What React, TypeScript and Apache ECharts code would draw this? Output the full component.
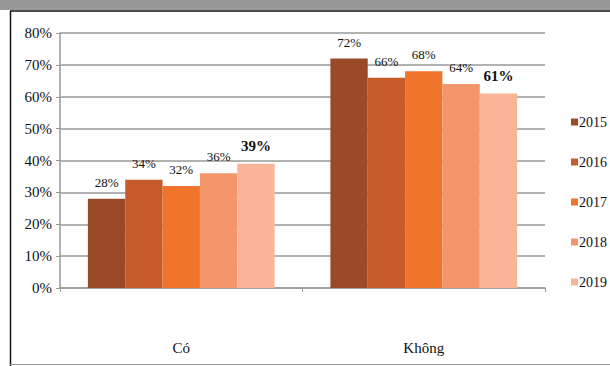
import React, { useEffect, useRef } from "react";
import * as echarts from "echarts";

const categories = ["Có", "Không"];
const years = ["2015", "2016", "2017", "2018", "2019"];
const values2015 = [28, 72];
const values2016 = [34, 66];
const values2017 = [32, 68];
const values2018 = [36, 64];
const values2019 = [39, 61];
const yTicks = [0, 10, 20, 30, 40, 50, 60, 70, 80];

const colors = ["#9B4A29", "#C65B2B", "#F0742C", "#F3966A", "#F8B598"];
const seriesValues = [values2015, values2016, values2017, values2018, values2019];

export default function App() {
  const ref = useRef<HTMLDivElement>(null);
  useEffect(() => {
    if (!ref.current) return;
    const chart = echarts.init(ref.current, null, { renderer: "svg" });
    const font = "'Liberation Serif', 'Times New Roman', serif";
    chart.setOption({
      animation: false,
      backgroundColor: "#ffffff",
      textStyle: { fontFamily: font },
      grid: { left: 60, right: 65, top: 33, bottom: 78, containLabel: false },
      graphic: [
        { type: "rect", shape: { x: 0, y: 0, width: 610, height: 10 }, style: { fill: "#999999" }, silent: true },
        { type: "line", shape: { x1: 10, y1: 11, x2: 610, y2: 11 }, style: { stroke: "#111", lineWidth: 1.5 }, silent: true },
        { type: "line", shape: { x1: 10.5, y1: 11, x2: 10.5, y2: 366 }, style: { stroke: "#111", lineWidth: 1.5 }, silent: true },
        { type: "line", shape: { x1: 10, y1: 364.5, x2: 610, y2: 364.5 }, style: { stroke: "#999", lineWidth: 1 }, silent: true },
      ],
      legend: {
        orient: "vertical",
        left: 566,
        top: 110,
        itemWidth: 7,
        itemHeight: 7,
        itemGap: 26,
        icon: "rect",
        data: years,
        textStyle: { fontFamily: font, fontSize: 14, color: "#111", padding: [0, 0, 0, -4] },
      },
      xAxis: {
        type: "category",
        data: categories,
        axisLine: { lineStyle: { color: "#999", width: 1.5 } },
        axisTick: { show: true, length: 4, lineStyle: { color: "#999" } },
        axisLabel: { margin: 52, fontFamily: font, fontSize: 15, color: "#111" },
      },
      yAxis: {
        type: "value",
        min: yTicks[0],
        max: yTicks[yTicks.length - 1],
        interval: 10,
        axisLine: { show: true, lineStyle: { color: "#999", width: 1.5 } },
        axisTick: { show: true, length: 4, lineStyle: { color: "#999" } },
        splitLine: { lineStyle: { color: "#999", width: 1.5 } },
        axisLabel: { formatter: "{value}%", fontFamily: font, fontSize: 15, color: "#111", margin: 8 },
      },
      series: years.map((y, i) => ({
        name: y,
        type: "bar",
        data: seriesValues[i],
        barGap: "0%",
        barCategoryGap: "23%",
        itemStyle: { color: colors[i] },
        label: {
          show: true,
          position: "top",
          distance: 10,
          formatter: "{c}%",
          fontFamily: font,
          fontSize: i === 4 ? 15 : 13,
          fontWeight: i === 4 ? "bold" : "normal",
          color: "#111",
        },
      })),
    });
    return () => chart.dispose();
  }, []);
  return (
    <div
      ref={ref}
      style={{ position: "fixed", left: 0, top: 0, width: 610, height: 366 }}
    />
  );
}
